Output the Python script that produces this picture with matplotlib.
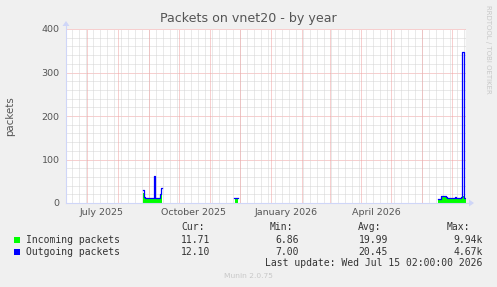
import matplotlib
matplotlib.use('Agg')
import matplotlib.pyplot as plt
import numpy as np
import datetime as dt
from matplotlib.patches import Rectangle, Polygon
from matplotlib.lines import Line2D

# ---------------- data ----------------
title = "Packets on vnet20 - by year"
y_label = "packets"
end_time = "2026-07-15 02:00"
range_days = 400

seg1_start = "2025-08-26"
seg1_in = [22, 12, 11, 11, 11, 11, 11, 11, 11, 11, 11, 40, 11, 11, 11, 11, 11, 14, 28]
seg1_out = [30, 14, 12, 12, 11, 11, 11, 11, 11, 11, 11, 62, 12, 11, 11, 11, 11, 20, 34]

seg2_start = "2025-11-25"
seg2_in = [np.nan, 9, 9, 9]
seg2_out = [11, 11, 11, 11]

seg3_start = "2026-06-17"
seg3_in = [7, 7, 9, 13, 14, 14, 14, 14, 11, 11, 11, 11, 11, 11, 11, 11, 11, 11,
           11, 11, 11, 11, 11, 11, 15, 15, 11, 11]
seg3_out = [9, 9, 10, 15, 16, 16, 16, 16, 13, 12, 12, 12, 12, 12, 12, 12, 12, 13,
            12, 12, 12, 12, 12, 13, 346, 346, 12, 12]

y_ticks = [0, 100, 200, 300, 400]
x_label_months = ["2025-07-01", "2025-10-01", "2026-01-01", "2026-04-01"]

legend_names = ["Incoming packets", "Outgoing packets"]
legend_cur = ["11.71", "12.10"]
legend_min = ["6.86", "7.00"]
legend_avg = ["19.99", "20.45"]
legend_max = ["9.94k", "4.67k"]
last_update = "Last update: Wed Jul 15 02:00:00 2026"
footer = "Munin 2.0.75"
side_text = "RRDTOOL / TOBI OETIKER"

# ---------------- styling ----------------
W, H = 497, 287
GREEN = '#00FF00'
BLUE = '#0000FF'
TXT = '#555555'

fig = plt.figure(figsize=(W / 100, H / 100), dpi=100, facecolor='#F0F0F0')


def fx(px):
    return px / W


def fy(py):
    return 1 - py / H


L, R, T, B = 66, 466, 29, 203
ax = fig.add_axes([fx(L), fy(B), (R - L) / W, (B - T) / H])
ax.set_facecolor('white')

end = dt.datetime.strptime(end_time, "%Y-%m-%d %H:%M")
start = end - dt.timedelta(days=range_days)


def xd(d):
    if isinstance(d, str):
        d = dt.datetime.strptime(d, "%Y-%m-%d")
    return (d - start).total_seconds() / 86400.0


ax.set_xlim(0, range_days)
ax.set_ylim(0, 400)
for s in ax.spines.values():
    s.set_visible(False)

dot = (0, (1, 1))
GRID = '#D4D4D4'
MGRID = '#F0A0A0'
gkw = dict(lw=0.72, ls=dot, zorder=1)
# minor horizontal grid
for v in range(0, 401, 20):
    if v % 100 == 0:
        continue
    ax.axhline(v, color=GRID, **gkw)
for v in y_ticks[1:]:
    ax.axhline(v, color=MGRID, **gkw)

# vertical grid: weekly minor (Mondays), monthly major
d = dt.datetime(2025, 6, 16)
while d < end:
    x = xd(d)
    if 0 < x < range_days:
        ax.axvline(x, color=GRID, **gkw)
    d += dt.timedelta(days=7)
month_starts = []
y, m = 2025, 7
while True:
    d = dt.datetime(y, m, 1)
    if d > end:
        break
    month_starts.append(d)
    m += 1
    if m > 12:
        m = 1
        y += 1
for d in month_starts:
    ax.axvline(xd(d), color=MGRID, **gkw)


def draw_seg(sdate, vin, vout):
    x0 = xd(sdate)
    n = len(vin)
    xs = x0 + np.arange(n + 1)
    vi = np.array(list(vin) + [vin[-1]], dtype=float)
    vo = np.array(list(vout) + [vout[-1]], dtype=float)
    ax.fill_between(xs, 0, vi, step='post', color=GREEN, lw=0, zorder=3,
                    where=~np.isnan(vi))
    ax.step(xs, vo, where='post', color=BLUE, lw=0.9, zorder=4)


draw_seg(seg1_start, seg1_in, seg1_out)
draw_seg(seg2_start, seg2_in, seg2_out)
draw_seg(seg3_start, seg3_in, seg3_out)

# right edge line
ax.axvline(range_days - 0.5, color='#999999', lw=0.8, zorder=5)

# ticks
ax.set_yticks(y_ticks)
ax.set_yticklabels([str(v) for v in y_ticks])
ax.tick_params(axis='y', length=0, pad=4.5, labelsize=6.8, labelcolor=TXT)
lab_pos = [xd(s) + 15 for s in x_label_months]
ax.set_xticks(lab_pos)
ax.set_xticklabels([dt.datetime.strptime(s, "%Y-%m-%d").strftime("%B %Y") for s in x_label_months])
ax.tick_params(axis='x', length=0, pad=3.5, labelsize=6.8, labelcolor=TXT)

# axes lines + arrows
AX = '#CFD6F8'
fig.add_artist(Line2D([fx(L), fx(471)], [fy(B), fy(B)], color=AX, lw=0.8))
fig.add_artist(Line2D([fx(L), fx(L)], [fy(B), fy(24)], color=AX, lw=0.8))
fig.add_artist(Polygon([[fx(469), fy(B - 3.5)], [fx(474), fy(B)], [fx(469), fy(B + 3.5)]],
                       closed=True, color=AX, lw=0))
fig.add_artist(Polygon([[fx(L - 3.5), fy(26)], [fx(L), fy(21)], [fx(L + 3.5), fy(26)]],
                       closed=True, color=AX, lw=0))

# texts
fig.text(0.5, fy(18.5), title, ha='center', va='center', fontsize=9.1, color=TXT)
fig.text(fx(10), fy(116), y_label, rotation=90, ha='center', va='center',
         fontsize=7.4, color=TXT)
fig.text(fx(488), fy(5), side_text, rotation=270, ha='center', va='top',
         fontsize=5, color='#C8C8C8')

mono = 'DejaVu Sans Mono'
LF = 7.05
LC = '#333333'
ry = [240, 251.7]
fig.text(fx(181), fy(227.5), "Cur:", fontsize=LF, family=mono, color=LC, ha='left', va='center')
fig.text(fx(269.3), fy(227.5), "Min:", fontsize=LF, family=mono, color=LC, ha='left', va='center')
fig.text(fx(358.3), fy(227.5), "Avg:", fontsize=LF, family=mono, color=LC, ha='left', va='center')
fig.text(fx(446.7), fy(227.5), "Max:", fontsize=LF, family=mono, color=LC, ha='left', va='center')
colors = [GREEN, BLUE]
for i in range(2):
    fig.add_artist(Rectangle((fx(14), fy(ry[i] + 3)), 6 / W, 6 / H, color=colors[i], lw=0))
    fig.text(fx(26.5), fy(ry[i]), legend_names[i], fontsize=LF, family=mono, color=LC, ha='left', va='center')
    fig.text(fx(210), fy(ry[i]), legend_cur[i], fontsize=LF, family=mono, color=LC, ha='right', va='center')
    fig.text(fx(299), fy(ry[i]), legend_min[i], fontsize=LF, family=mono, color=LC, ha='right', va='center')
    fig.text(fx(388), fy(ry[i]), legend_avg[i], fontsize=LF, family=mono, color=LC, ha='right', va='center')
    fig.text(fx(482.5), fy(ry[i]), legend_max[i], fontsize=LF, family=mono, color=LC, ha='right', va='center')
fig.text(fx(482.5), fy(263.5), last_update, fontsize=LF, family=mono, color=LC, ha='right', va='center')
fig.text(0.5, fy(276), footer, fontsize=5.4, color='#C8C8C8', ha='center', va='center')

fig.savefig('out.png', dpi=100, facecolor=fig.get_facecolor())
